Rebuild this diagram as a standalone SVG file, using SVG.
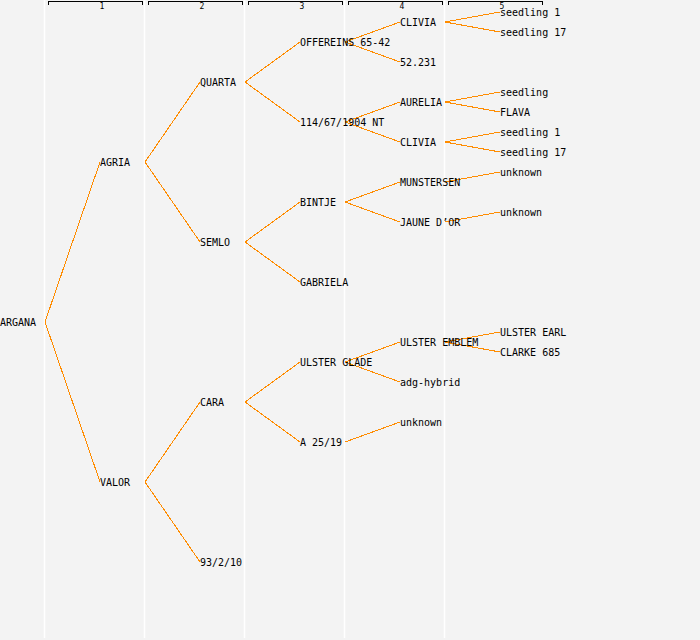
<svg xmlns="http://www.w3.org/2000/svg" width="700" height="640" viewBox="0 0 700 640">
<style>
.t{font-family:"DejaVu Sans Mono","Liberation Mono",monospace;font-size:10px;fill:#000}
.h{font-family:"DejaVu Sans Mono","Liberation Mono",monospace;font-size:8px;fill:#000;text-anchor:middle}
.e{stroke:#ff8c00;stroke-width:1;fill:none;shape-rendering:crispEdges}
.g{stroke:#ffffff;stroke-width:1.5}
.b{stroke:#000;stroke-width:1;fill:none;shape-rendering:crispEdges}
</style>
<rect width="700" height="640" fill="#f3f3f3"/>
<g id="grid">
<line class="g" x1="44.5" y1="0" x2="44.5" y2="638"/>
<line class="g" x1="144.5" y1="0" x2="144.5" y2="638"/>
<line class="g" x1="244.5" y1="0" x2="244.5" y2="638"/>
<line class="g" x1="344.5" y1="0" x2="344.5" y2="638"/>
<line class="g" x1="444.5" y1="0" x2="444.5" y2="638"/>
</g>
<g id="header">
<path class="b" d="M48.5,5V1.5H142.5V5"/><text class="h" x="102" y="9">1</text>
<path class="b" d="M148.5,5V1.5H242.5V5"/><text class="h" x="202" y="9">2</text>
<path class="b" d="M248.5,5V1.5H342.5V5"/><text class="h" x="302" y="9">3</text>
<path class="b" d="M348.5,5V1.5H442.5V5"/><text class="h" x="402" y="9">4</text>
<path class="b" d="M448.5,5V1.5H542.5V5"/><text class="h" x="502" y="9">5</text>
</g>
<g id="connectors">
<line class="e" x1="45" y1="322" x2="100" y2="162"/>
<line class="e" x1="45" y1="322" x2="100" y2="482"/>
<line class="e" x1="145" y1="162" x2="200" y2="82"/>
<line class="e" x1="145" y1="162" x2="200" y2="242"/>
<line class="e" x1="145" y1="482" x2="200" y2="402"/>
<line class="e" x1="145" y1="482" x2="200" y2="562"/>
<line class="e" x1="245" y1="82" x2="300" y2="42"/>
<line class="e" x1="245" y1="82" x2="300" y2="122"/>
<line class="e" x1="245" y1="242" x2="300" y2="202"/>
<line class="e" x1="245" y1="242" x2="300" y2="282"/>
<line class="e" x1="245" y1="402" x2="300" y2="362"/>
<line class="e" x1="245" y1="402" x2="300" y2="442"/>
<line class="e" x1="345" y1="42" x2="400" y2="22"/>
<line class="e" x1="345" y1="42" x2="400" y2="62"/>
<line class="e" x1="345" y1="122" x2="400" y2="102"/>
<line class="e" x1="345" y1="122" x2="400" y2="142"/>
<line class="e" x1="345" y1="202" x2="400" y2="182"/>
<line class="e" x1="345" y1="202" x2="400" y2="222"/>
<line class="e" x1="345" y1="362" x2="400" y2="342"/>
<line class="e" x1="345" y1="362" x2="400" y2="382"/>
<line class="e" x1="345" y1="442" x2="400" y2="422"/>
<line class="e" x1="445" y1="22" x2="500" y2="12"/>
<line class="e" x1="445" y1="22" x2="500" y2="32"/>
<line class="e" x1="445" y1="102" x2="500" y2="92"/>
<line class="e" x1="445" y1="102" x2="500" y2="112"/>
<line class="e" x1="445" y1="142" x2="500" y2="132"/>
<line class="e" x1="445" y1="142" x2="500" y2="152"/>
<line class="e" x1="445" y1="182" x2="500" y2="172"/>
<line class="e" x1="445" y1="222" x2="500" y2="212"/>
<line class="e" x1="445" y1="342" x2="500" y2="332"/>
<line class="e" x1="445" y1="342" x2="500" y2="352"/>
</g>
<g id="n-argana"><text class="t" x="0" y="326">ARGANA</text></g>
<g id="n-agria"><text class="t" x="100" y="166">AGRIA</text></g>
<g id="n-valor"><text class="t" x="100" y="486">VALOR</text></g>
<g id="n-quarta"><text class="t" x="200" y="86">QUARTA</text></g>
<g id="n-semlo"><text class="t" x="200" y="246">SEMLO</text></g>
<g id="n-cara"><text class="t" x="200" y="406">CARA</text></g>
<g id="n-93-2-10"><text class="t" x="200" y="566">93/2/10</text></g>
<g id="n-offereins"><text class="t" x="300" y="46">OFFEREINS 65-42</text></g>
<g id="n-114"><text class="t" x="300" y="126">114/67/1904 NT</text></g>
<g id="n-bintje"><text class="t" x="300" y="206">BINTJE</text></g>
<g id="n-gabriela"><text class="t" x="300" y="286">GABRIELA</text></g>
<g id="n-ulster-glade"><text class="t" x="300" y="366">ULSTER GLADE</text></g>
<g id="n-a2519"><text class="t" x="300" y="446">A 25/19</text></g>
<g id="n-clivia1"><text class="t" x="400" y="26">CLIVIA</text></g>
<g id="n-52231"><text class="t" x="400" y="66">52.231</text></g>
<g id="n-aurelia"><text class="t" x="400" y="106">AURELIA</text></g>
<g id="n-clivia2"><text class="t" x="400" y="146">CLIVIA</text></g>
<g id="n-munstersen"><text class="t" x="400" y="186">MUNSTERSEN</text></g>
<g id="n-jaune"><text class="t" x="400" y="226">JAUNE D’OR</text></g>
<g id="n-ulster-emblem"><text class="t" x="400" y="346">ULSTER EMBLEM</text></g>
<g id="n-adg"><text class="t" x="400" y="386">adg-hybrid</text></g>
<g id="n-unknown1"><text class="t" x="400" y="426">unknown</text></g>
<g id="n-seedling1a"><text class="t" x="500" y="16">seedling 1</text></g>
<g id="n-seedling17a"><text class="t" x="500" y="36">seedling 17</text></g>
<g id="n-seedling"><text class="t" x="500" y="96">seedling</text></g>
<g id="n-flava"><text class="t" x="500" y="116">FLAVA</text></g>
<g id="n-seedling1b"><text class="t" x="500" y="136">seedling 1</text></g>
<g id="n-seedling17b"><text class="t" x="500" y="156">seedling 17</text></g>
<g id="n-unknown2"><text class="t" x="500" y="176">unknown</text></g>
<g id="n-unknown3"><text class="t" x="500" y="216">unknown</text></g>
<g id="n-ulster-earl"><text class="t" x="500" y="336">ULSTER EARL</text></g>
<g id="n-clarke"><text class="t" x="500" y="356">CLARKE 685</text></g>
</svg>
